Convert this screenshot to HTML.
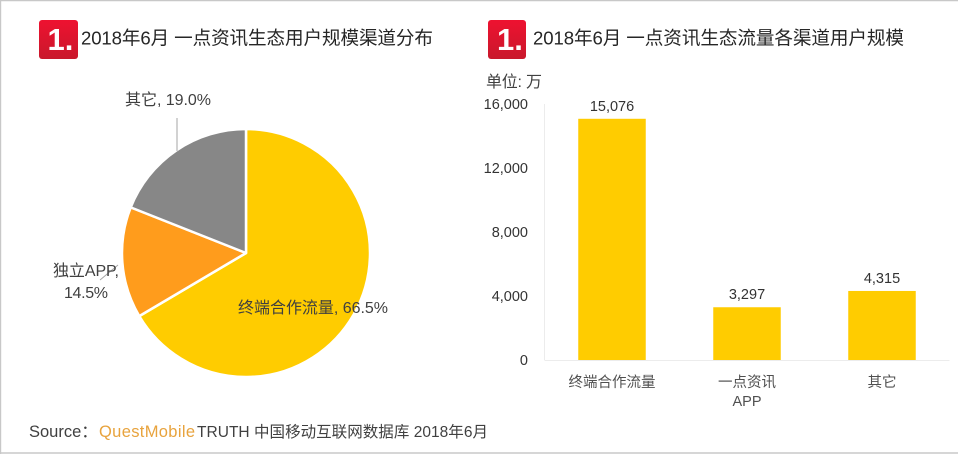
<!DOCTYPE html>
<html lang="zh">
<head>
<meta charset="utf-8">
<title>一点资讯生态用户规模</title>
<style>
html,body{margin:0;padding:0;background:#fff;}
svg{display:block;font-family:"Liberation Sans","Noto Sans CJK SC",sans-serif;}
</style>
</head>
<body>
<svg id="chart" width="960" height="454" viewBox="0 0 960 454" xmlns="http://www.w3.org/2000/svg">
  <defs>
    <linearGradient id="badge-red" x1="0" y1="0" x2="0" y2="1">
      <stop offset="0" stop-color="#ee1230"/>
      <stop offset="1" stop-color="#c9182c"/>
    </linearGradient>
  </defs>
  <rect x="0" y="0" width="960" height="454" fill="#fff"/>
  <path d="M0.5 454V0.5H958M0 453H958" fill="none" stroke="#c8c8c8" stroke-width="1.4"/>

  <g>
    <rect x="39" y="20" width="39" height="39" rx="3" fill="url(#badge-red)"/>
    <text x="47.5" y="50" font-size="31" font-weight="bold" fill="#fff">1.</text>
    <text x="81" y="44.5" font-size="18.6" fill="#262626" textLength="352" lengthAdjust="spacing">2018年6月 一点资讯生态用户规模渠道分布</text>
  </g>
  <g>
    <rect x="488" y="20" width="38" height="39" rx="3" fill="url(#badge-red)"/>
    <text x="497" y="50" font-size="31" font-weight="bold" fill="#fff">1.</text>
    <text x="533" y="44.5" font-size="18.6" fill="#262626" textLength="371" lengthAdjust="spacing">2018年6月 一点资讯生态流量各渠道用户规模</text>
  </g>

  <g id="pie"></g>
  <g id="bars"></g>

  <text x="486" y="87" font-size="16" fill="#404040" textLength="56" lengthAdjust="spacing">单位: 万</text>

  <text x="29" y="437" font-size="16.5" fill="#404040">Source：</text>
  <text x="99" y="437" font-size="16.5" fill="#e8a33d" textLength="96" lengthAdjust="spacing">QuestMobile</text>
  <text x="197" y="437" font-size="15.5" fill="#404040" textLength="291" lengthAdjust="spacing">TRUTH 中国移动互联网数据库 2018年6月</text>
</svg>

<script>
var pieCategories = ['终端合作流量', '独立APP', '其它'];
var pieValues = [66.5, 14.5, 19.0];
var pieColors = ['#ffcc00', '#ff9c1c', '#878787'];

var barCategories = [['终端合作流量'], ['一点资讯', 'APP'], ['其它']];
var barValues = [15076, 3297, 4315];
var yTicks = [0, 4000, 8000, 12000, 16000];

var NS = 'http://www.w3.org/2000/svg';
function make(parent, tag, attrs, text) {
  var el = document.createElementNS(NS, tag);
  for (var k in attrs) el.setAttribute(k, attrs[k]);
  if (text !== undefined) el.textContent = text;
  parent.appendChild(el);
  return el;
}
function fmt(n) { return String(n).replace(/\B(?=(\d{3})+$)/g, ','); }

/* pie */
var pieGroup = document.getElementById('pie');
var cx = 246, cy = 253, r = 124;
var pieTotal = pieValues.reduce(function (a, b) { return a + b; }, 0);
function pt(frac, rad) {
  var a = frac * 2 * Math.PI;
  return [cx + rad * Math.sin(a), cy - rad * Math.cos(a)];
}
var acc = 0;
pieValues.forEach(function (v, i) {
  var f0 = acc / pieTotal, f1 = (acc + v) / pieTotal;
  var p0 = pt(f0, r), p1 = pt(f1, r);
  var large = (f1 - f0) > 0.5 ? 1 : 0;
  var slice = make(pieGroup, 'path', {
    d: 'M' + cx + ' ' + cy + 'L' + p0[0] + ' ' + p0[1] + 'A' + r + ' ' + r + ' 0 ' + large + ' 1 ' + p1[0] + ' ' + p1[1] + 'Z',
    fill: pieColors[i], stroke: '#fff', 'stroke-width': 2.5, 'stroke-linejoin': 'round'
  });
  
  
  acc += v;
});

var leaderA = make(pieGroup, 'path', { d: 'M177 118V151', stroke: '#a6a6a6', fill: 'none', 'stroke-width': 1 });


var leaderB = make(pieGroup, 'path', { d: 'M100 280L118 265', stroke: '#a6a6a6', fill: 'none', 'stroke-width': 1 });



function pieLabel(x, y, str, name, width) {
  var t = make(pieGroup, 'text', { x: x, y: y, 'font-size': 16, fill: '#404040', textLength: width, lengthAdjust: 'spacing' }, str);
  
  
}
pieLabel(125, 105, pieCategories[2] + ', ' + pieValues[2].toFixed(1) + '%', 'pie-label-other', 86);
pieLabel(53, 276, pieCategories[1] + ',', 'pie-label-app-name', 66);
pieLabel(64, 298, pieValues[1].toFixed(1) + '%', 'pie-label-app-value', 44);
pieLabel(238, 313, pieCategories[0] + ', ' + pieValues[0].toFixed(1) + '%', 'pie-label-terminal', 150);

/* bars */
var barGroup = document.getElementById('bars');
var plotLeft = 544.5, plotRight = 949.5, plotBottom = 360, pxPerUnit = 64 / 4000, barWidth = 67.5;
function yScale(v) { return plotBottom - v * pxPerUnit; }
function xCenter(i) { return plotLeft + (plotRight - plotLeft) * (i + 0.5) / barCategories.length; }

var axisY = make(barGroup, 'line', { x1: plotLeft, x2: plotLeft, y1: yScale(yTicks[yTicks.length - 1]), y2: plotBottom, stroke: '#ececec' });


var axisX = make(barGroup, 'line', { x1: plotLeft, x2: plotRight, y1: plotBottom + 0.5, y2: plotBottom + 0.5, stroke: '#ececec' });



yTicks.forEach(function (t) {
  var lab = make(barGroup, 'text', { x: 528, y: yScale(t) + 5, 'text-anchor': 'end', 'font-size': 14.5, fill: '#333' }, fmt(t));
  
  
});

barValues.forEach(function (v, i) {
  var c = xCenter(i), y = yScale(v);
  var bar = make(barGroup, 'rect', { x: c - barWidth / 2, y: y, width: barWidth, height: plotBottom - y, fill: '#ffcc00' });
  
  
  var val = make(barGroup, 'text', { x: c, y: y - 8, 'text-anchor': 'middle', 'font-size': 14.5, fill: '#333' }, fmt(v));
  
  
  barCategories[i].forEach(function (line, j) {
    var cat = make(barGroup, 'text', { x: c, y: 387 + j * 19, 'text-anchor': 'middle', 'font-size': 14.5, fill: '#505050' }, line);
    
    
  });
});
</script>
</body>
</html>
